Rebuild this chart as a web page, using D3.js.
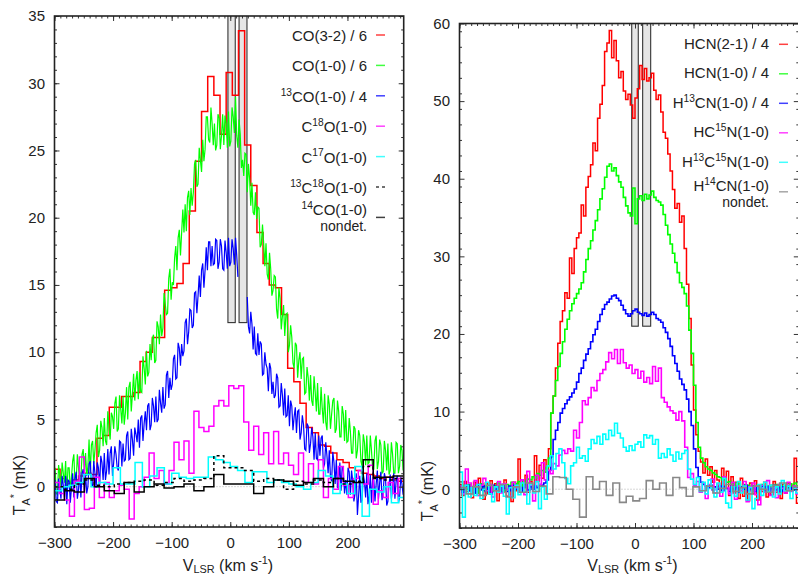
<!DOCTYPE html>
<html>
<head>
<meta charset="utf-8">
<script src="https://cdn.jsdelivr.net/npm/d3@7"></script>
<style>
  body { margin: 0; background: #fff; }
  svg { display: block; font-family: "Liberation Sans", Arial, sans-serif; }
</style>
</head>
<body>
<svg id="chart" width="798" height="576"></svg>
<script>
// ---- left panel: CO isotopologues (T_A* in mK, channels [start, width] in km/s)
const co32Grid = [-301, 10.5];
const co32 = [1.3,0.6,0.2,0.5,0.8,1.0,0.9,3.6,3.8,5.9,5.9,6.7,6.7,7.0,9.3,10.0,11.1,11.1,14.6,14.8,
  15.1,16.6,20.5,24.2,27.9,30.5,29.1,26.2,30.8,29.1,33.9,25.4,22.4,18.9,16.6,15.0,14.8,12.8,8.8,7.8,
  6.2,4.4,4.0,3.1,3.0,2.5,2.0,1.8,1.4,1.2,1.0,0.9,0.8,0.6,0.7,0.5,0.4];

const co10Grid = [-300, 2];
const co10 = [1.4,-0.5,-0.6,1.6,0.9,-0.1,1.8,1.0,0.3,1.9,
  -0.6,1.4,1.4,-0.3,0.7,1.9,2.4,0.2,0.4,2.4,
  1.4,0.2,0.5,2.4,2.8,0.9,2.5,0.8,1.5,3.5,
  0.9,3.1,3.4,1.7,2.7,4.0,4.6,2.2,2.7,4.9,
  4.4,3.0,5.1,3.4,3.1,5.6,4.4,3.5,5.5,5.2,
  4.3,6.2,6.7,4.1,4.3,6.8,5.8,4.7,6.7,4.6,
  5.5,7.4,5.0,7.4,7.8,5.6,6.9,8.4,6.4,7.9,
  8.6,6.5,8.5,7.1,7.0,9.7,8.8,7.6,10.1,8.2,
  8.5,10.6,9.4,11.0,11.3,9.2,9.4,12.3,11.9,10.6,
  12.8,11.2,11.8,14.4,13.6,12.8,12.9,15.5,16.2,13.9,
  15.2,15.0,17.0,17.9,16.1,18.5,19.1,17.2,18.9,20.6,
  18.9,21.0,19.0,21.5,22.0,20.2,22.2,20.9,21.9,24.0,
  24.3,22.3,22.5,25.2,24.3,23.4,25.8,24.2,25.1,27.5,
  27.5,25.8,25.6,28.2,27.0,25.4,27.0,25.0,25.4,27.7,
  27.4,25.1,26.1,27.7,25.4,27.6,27.0,25.2,27.9,25.3,
  25.7,28.2,27.5,26.3,29.0,26.1,25.2,27.3,26.2,23.7,
  24.3,23.1,24.8,24.7,21.9,24.0,22.9,20.9,22.6,20.4,
  20.2,21.9,19.9,20.8,20.7,17.8,18.0,19.5,18.1,16.4,
  18.1,15.8,15.4,17.4,16.2,14.2,14.6,15.7,15.6,13.2,
  12.5,14.8,14.0,11.7,12.7,13.5,11.2,12.8,12.9,10.0,
  10.5,12.0,11.1,9.2,8.8,10.7,10.5,8.1,9.4,10.0,
  8.0,9.5,9.6,6.9,7.0,8.9,8.1,6.4,8.3,6.4,
  6.0,8.2,7.0,5.6,7.7,5.4,5.4,7.4,5.8,4.7,
  6.9,4.8,4.2,6.8,6.1,4.3,5.4,6.4,6.6,4.0,
  4.3,6.4,5.6,3.7,3.7,6.0,5.4,3.4,5.7,3.3,
  3.4,5.1,4.1,2.5,2.5,4.5,4.3,2.1,2.7,4.2,
  3.8,1.9,1.5,3.9,3.3,1.6,3.8,1.7,1.8,3.8,
  2.7,1.3,1.3,3.4,3.8,1.3,1.9,3.5,3.1,1.0,
  1.1,3.4,2.7,1.2,3.2,0.9,1.2,3.3,2.4,1.0,
  1.0,3.3,3.2,1.0,1.5,3.1,2.7,1.2];

// null = channels hidden behind the second grey box
const co13Grid = [-300, 2];
const co13 = [0.5,-1.1,-1.2,0.6,-0.1,-0.9,0.8,0.1,-0.8,0.8,
  -1.3,0.5,0.4,-1.2,0.0,1.0,-0.8,0.6,1.1,-0.9,
  -0.2,1.1,-0.8,1.0,1.3,-0.4,0.9,-0.5,0.0,1.7,
  1.9,0.2,0.0,1.9,1.0,-0.1,1.8,1.4,0.0,2.3,
  1.8,0.5,2.5,0.5,1.2,2.8,0.9,2.5,3.0,0.8,
  1.8,3.0,2.4,1.4,1.2,3.4,3.3,1.5,3.2,1.9,
  2.0,3.8,4.1,2.0,2.1,4.3,3.5,2.3,4.4,3.9,
  3.3,5.0,2.9,5.1,5.3,3.4,4.7,5.6,4.2,6.0,
  6.2,4.2,4.6,6.6,6.0,4.8,6.7,4.8,5.0,7.2,
  6.2,5.5,7.4,5.8,6.1,8.3,8.6,6.6,8.1,7.2,
  7.6,9.5,9.8,8.0,8.1,10.7,10.3,9.0,10.6,9.7,
  10.1,12.2,12.5,10.6,11.5,13.2,13.1,11.8,12.0,14.4,
  14.5,12.9,14.2,15.7,14.1,16.1,16.6,14.8,16.1,17.8,
  16.1,18.2,18.2,16.4,17.9,16.5,16.6,18.4,18.3,16.2,
  16.7,18.4,17.9,16.2,16.1,18.3,17.4,16.2,18.5,16.4,
  16.7,18.4,17.7,16.5,18.5,17.2,15.6,null,null,null,
  null,null,null,null,14.1,11.9,11.4,13.0,12.1,10.2,
  11.9,9.9,9.8,11.4,9.8,10.8,10.6,8.3,8.4,10.0,
  9.1,8.8,7.1,9.2,8.8,6.9,7.8,6.6,6.8,8.4,
  8.1,5.9,6.0,7.7,6.8,5.3,7.3,5.2,5.3,6.8,
  4.5,6.4,6.0,4.2,5.2,5.9,4.0,5.6,5.7,3.5,
  4.0,5.3,4.6,2.8,2.7,4.7,4.5,2.5,3.2,4.4,
  3.7,2.0,4.0,2.1,2.0,3.8,2.3,3.6,3.8,1.4,
  1.7,3.3,2.3,1.0,2.7,0.7,0.4,2.6,1.8,0.2,
  2.0,-0.1,0.3,1.8,-0.3,1.5,1.2,-0.5,0.5,-0.6,
  1.4,1.1,-0.6,1.2,0.4,-1.1,-0.5,1.0,-2.1,-0.7,
  0.8,-1.2,-1.0,0.9,0.4,-0.8,1.0,-1.3,-0.7,0.9,
  -1.2,0.6,0.5,-1.1,0.2,1.2,-0.9,0.3,1.1,-1.0,
  -0.4,1.0,0.6,-1.4,-1.1,0.2,0.9,-0.9,-0.1,1.0,
  -0.9,0.4,0.8,-1.2,-0.8,0.7,0.2,-0.6];

const c18oGrid = [-300, 8.5];
const c18o = [0.3,-0.5,-1.0,-2.2,0.4,2.2,-1.7,-1.6,0.7,-0.8,
  0.3,-0.8,-0.3,0.1,-0.2,-2.4,-0.5,0.0,0.7,2.5,
  0.6,1.2,0.2,1.2,3.3,2.0,3.4,1.0,5.6,4.4,
  4.1,4.5,6.0,6.4,6.0,7.5,7.3,7.5,4.8,2.7,
  4.5,2.4,4.0,1.7,4.1,1.7,2.5,1.6,0.9,2.5,
  0.3,1.7,0.2,2.0,-0.8,0.6,-0.2,1.5,0.1,-0.8,
  0.6,1.2,0.2,1.6,-1.3,-0.3,-0.8,0.3,-0.5,0.6];

const c17oGrid = [-300, 12.5];
const c17o = [-0.3,0.0,0.1,0.3,0.9,0.0,0.3,0.2,1.4,0.2,
  0.2,1.8,0.0,0.8,1.4,0.2,1.0,0.7,0.6,0.7,
  0.7,2.2,2.0,1.8,1.5,1.2,0.3,1.1,1.1,0.3,
  0.5,0.3,0.2,0.0,-0.2,0.3,1.2,0.8,-0.5,0.2,
  -0.5,1.5,-2.2,-0.2,-0.4,0.0,-1.2,-0.8];

const c13c18oGrid = [-300, 17];
const c13c18o = [0.0,-0.2,0.2,0.5,0.1,0.0,0.2,0.3,0.4,0.5,0.1,0.3,0.6,0.4,0.5,0.6,2.3,1.4,
  1.4,1.2,0.4,0.6,0.5,-0.2,0.4,0.2,0.5,0.3,0.6,0.2,0.4,1.5,0.6,0.5,0.6];

const c14oGrid = [-300, 17];
const c14o = [-1.0,-0.3,-0.4,0.6,0.0,-0.3,-0.5,0.3,-0.4,0.0,0.2,-0.1,0.0,0.2,-0.3,0.0,0.9,0.2,
  0.2,0.2,-0.5,0.0,0.5,0.4,0.1,0.3,0.6,0.0,0.6,0.4,0.3,2.0,0.7,0.7,0.8];

const coLabels = ["CO(3-2) / 6", "CO(1-0) / 6", "^{13}CO(1-0) / 4", "C^{18}O(1-0)",
  "C^{17}O(1-0)", "^{13}C^{18}O(1-0)", "^{14}CO(1-0)"];
const coMasks = [[-4, 8.5], [15, 28.5]];   // velocity ranges of the grey boxes
const coMaskFloor = 12.2;

// ---- right panel: HCN isotopologues
const hcn21Grid = [-300, 4];
const hcn21 = [0.6,-0.8,1.0,-0.3,0.4,-1.1,0.9,-0.5,1.4,0.0,
  -1.3,0.8,-0.6,1.1,-0.2,0.7,-1.5,0.5,-0.4,1.2,
  -0.9,0.3,-1.6,0.9,-0.2,3.9,0.2,0.6,1.8,-0.4,
  1.0,0.2,4.3,1.0,3.1,1.4,3.8,2.6,5.2,9.8,
  12.0,15.6,18.8,21.6,23.0,25.3,24.6,29.8,27.8,31.0,
  32.4,33.0,36.6,35.2,38.9,40.3,41.8,44.6,43.6,47.8,
  49.6,52.0,56.4,57.5,59.1,55.6,57.8,55.2,53.0,53.8,
  51.3,50.2,50.9,49.5,47.8,50.4,51.6,54.6,52.8,54.2,
  52.6,53.0,53.6,51.4,50.2,50.8,48.6,46.0,45.2,43.2,
  41.0,38.6,36.2,36.8,34.4,35.2,31.0,26.4,22.0,16.0,
  10.2,7.0,4.9,3.5,2.1,3.9,1.8,2.9,0.9,2.4,
  1.2,0.3,2.7,0.4,2.3,-0.8,1.6,-0.5,0.9,-1.2,
  1.4,-0.9,0.2,-1.5,0.8,-0.6,1.1,-1.4,0.5,-0.3,
  0.9,-1.0,0.4,-0.7,1.0,-0.4,0.3,-1.2,0.6,-0.5,
  0.8,-0.2,0.5,4.0,-1.8,0.4];

const hcn10Grid = [-300, 4];
const hcn10 = [0.2,-0.4,0.5,0.0,0.6,-0.2,0.4,-0.5,0.3,0.7,
  -0.1,0.5,0.1,0.6,-0.3,0.4,0.8,0.1,0.5,-0.2,
  0.6,0.3,0.9,0.2,0.7,1.0,0.4,1.1,0.7,1.3,
  1.2,1.6,1.4,2.0,1.8,2.4,2.2,2.8,4.0,9.8,
  12.0,14.0,15.8,17.5,19.0,20.6,21.9,23.0,23.9,24.6,
  25.2,25.8,26.6,28.0,29.6,31.0,32.0,33.4,34.6,36.0,
  37.4,38.7,40.2,41.6,41.9,41.0,41.4,40.4,39.6,38.9,
  37.6,36.5,35.6,35.2,38.8,34.2,37.4,37.8,37.2,38.0,
  37.4,37.9,38.4,37.6,37.2,37.0,36.6,35.4,34.0,32.8,
  31.6,30.4,29.2,27.9,26.6,26.0,25.2,23.6,20.5,17.5,
  13.4,8.6,5.4,4.0,3.4,2.9,2.6,2.4,2.1,1.9,
  1.6,1.5,1.2,1.3,0.9,1.0,0.6,0.8,0.4,0.7,
  0.3,0.6,0.2,0.5,0.1,0.4,0.0,0.5,0.2,0.6,
  0.1,0.4,-0.1,0.5,0.2,0.6,0.0,0.4,0.1,0.5,
  0.2,0.7,0.3,0.8,0.4,0.6];

const h13cnGrid = [-300, 4];
const h13cn = [0.3,-0.4,0.1,0.5,-0.2,0.3,-0.5,0.2,0.6,-0.1,
  0.4,-0.3,0.2,-0.6,0.5,0.0,0.3,-0.4,0.6,0.1,
  -0.3,0.4,-0.2,0.5,0.0,0.3,-0.4,0.2,0.6,-0.1,
  0.3,0.0,0.4,0.2,0.6,0.5,0.8,1.2,2.4,4.2,
  6.4,7.6,8.6,9.8,10.4,11.0,11.5,11.9,12.4,12.9,
  13.8,14.9,15.6,16.6,17.4,18.1,19.0,19.9,20.6,21.6,
  22.5,23.2,23.8,24.1,24.5,24.9,25.0,24.6,24.3,23.7,
  23.1,22.6,22.3,22.6,23.0,23.2,22.8,22.6,22.4,22.7,
  22.3,22.5,22.8,22.5,22.0,21.8,21.5,20.8,20.2,19.4,
  18.4,17.2,16.2,15.2,14.2,13.5,12.8,11.6,10.0,8.2,
  5.2,2.8,1.6,0.9,0.6,0.4,0.2,0.5,-0.1,0.3,
  0.0,0.4,-0.2,0.3,0.1,-0.3,0.4,0.0,0.2,-0.4,
  0.3,0.0,0.5,-0.2,0.1,0.4,-0.3,0.2,0.0,0.4,
  -0.2,0.3,-0.4,0.1,0.5,-0.1,0.2,-0.3,0.3,0.0,
  0.4,-0.2,0.2,-0.1,0.3,0.0];

const hc15nGrid = [-300, 5];
const hc15n = [0.4,-0.6,2.6,0.8,-0.3,1.1,-0.8,0.5,1.4,-0.2,
  0.6,-1.0,0.3,1.0,-0.5,0.7,0.0,-0.9,0.9,0.2,
  -0.4,1.2,-0.7,2.3,0.5,-1.5,1.8,0.6,3.4,1.2,
  2.4,2.0,3.3,3.0,4.4,5.0,4.6,5.2,4.9,7.6,
  6.6,8.6,11.4,10.9,11.8,13.1,12.7,14.0,14.9,15.4,
  16.4,17.6,16.8,18.0,16.2,18.0,16.3,15.6,16.0,14.9,
  15.4,14.3,15.2,13.8,14.4,13.6,15.8,13.9,15.6,11.8,
  11.2,10.6,10.1,9.8,8.9,10.0,8.8,5.4,1.5,2.0,
  0.5,1.0,-0.4,0.8,-1.2,0.6,1.3,-0.5,0.7,-0.9,
  1.6,0.2,-0.6,0.9,-1.3,0.4,-0.2,1.0,-1.6,0.3,
  0.8,-0.7,-2.0,0.5,-0.4,1.1,-0.8,0.2,-1.1,0.6,
  0.1,-0.5,0.9,-0.3,0.4,-0.6,0.2];

const h13c15nGrid = [-300, 5];
const h13c15n = [2.2,-3.6,0.5,-1.0,0.2,-0.8,0.6,-1.2,0.0,0.9,
  -0.6,-1.6,0.3,-0.4,0.4,-0.9,-3.2,0.2,-1.1,0.5,
  -0.7,0.8,-0.3,-1.9,0.6,-0.5,1.0,-2.5,0.3,-1.3,
  3.0,4.3,2.6,4.6,5.2,3.4,1.4,0.7,3.0,3.4,
  5.4,4.0,4.3,3.6,5.2,6.4,5.9,6.8,5.8,7.1,
  6.4,7.6,6.9,8.5,7.2,6.6,5.4,4.9,5.6,5.0,
  5.8,6.1,5.4,7.0,6.6,6.9,5.8,6.4,4.0,4.6,
  4.1,5.2,4.4,3.6,4.8,3.9,4.6,5.0,2.6,1.3,
  0.6,1.5,-0.3,0.9,-0.6,1.2,0.1,-1.0,0.8,-0.4,
  1.4,-1.8,-2.4,0.3,-0.9,1.0,-0.5,0.4,-1.4,0.2,
  -2.5,-1.2,0.6,-0.8,0.9,-0.3,0.5,-1.0,0.3,-0.6,
  1.1,-0.2,0.4,-1.2,0.1,-0.5,0.6];

const h14cnGrid = [-300, 11.4];
const h14cn = [0.2,-0.6,0.3,-0.8,0.5,-0.2,0.6,-1.0,0.3,-0.4,
  0.8,-0.3,0.4,-0.6,1.6,1.5,0.0,-1.3,-3.6,1.6,
  0.0,1.0,-0.8,0.8,-1.7,-0.9,-1.5,-1.2,1.1,0.0,
  0.8,-0.8,1.5,0.2,-0.9,0.3,-0.2,0.4,-0.5,0.1,
  0.6,-0.3,0.2,-0.6,0.4,0.0,-0.4,0.5,0.8,-0.2,0.3];

const hcnLabels = ["HCN(2-1) / 4", "HCN(1-0) / 4", "H^{13}CN(1-0) / 4", "HC^{15}N(1-0)",
  "H^{13}C^{15}N(1-0)", "H^{14}CN(1-0)"];
const hcnMasks = [[-5.6, 5.6], [13.1, 26.8]];
const hcnMaskFloor = 21;

const xMajor = [-300, -200, -100, 0, 100, 200];

// ---- drawing
const svg = d3.select("#chart");

// text with ^{sup} and _{sub} pieces
function rich(text, str, size, subDrop) {
  const parts = str.split(/([\^_]\{[^}]*\})/).filter(s => s.length);
  let shift = 0;
  parts.forEach(p => {
    let dy = 0, fs = size, t = p;
    if (p[0] === "^") { t = p.slice(2, -1); fs = size * 0.68; dy = -size * 0.42; }
    else if (p[0] === "_") { t = p.slice(2, -1); fs = size * 0.68; dy = size * (subDrop || 0.3); }
    text.append("tspan").attr("dy", dy - shift).attr("font-size", fs).text(t);
    shift = dy;
  });
}

function toPoints(values, grid, centred) {
  const [start, w] = grid;
  const off = centred ? w / 2 : 0;
  const pts = values.map((t, i) => ({v: start + i * w + off, t}));
  if (!centred) pts.push({v: start + values.length * w, t: values[values.length - 1]});
  return pts;
}

function drawPanel(p, id) {
  const x = d3.scaleLinear().domain(p.xDom).range([p.x0, p.x1]);
  const y = d3.scaleLinear().domain(p.yDom).range([p.y1, p.y0]);
  const g = svg.append("g");

  g.append("clipPath").attr("id", id)
    .append("rect").attr("x", p.x0).attr("y", p.y0)
    .attr("width", p.x1 - p.x0).attr("height", p.y1 - p.y0);
  const plot = g.append("g").attr("clip-path", `url(#${id})`);

  // grey masked velocity boxes
  plot.selectAll("rect.mask").data(p.masks).join("rect")
    .attr("class", "mask")
    .attr("x", d => x(d[0])).attr("width", d => x(d[1]) - x(d[0]))
    .attr("y", y(p.yDom[1]) - 2).attr("height", y(p.maskFloor) - y(p.yDom[1]) + 2)
    .attr("fill", "#e6e6e6").attr("stroke", "#333").attr("stroke-width", 1.1);

  plot.append("line")
    .attr("x1", p.x0).attr("x2", p.x1).attr("y1", y(0)).attr("y2", y(0))
    .attr("stroke", "#999").attr("stroke-width", 0.8).attr("stroke-dasharray", "1,2");

  const stepLine = d3.line()
    .defined(d => d.t !== null)
    .x(d => x(d.v)).y(d => y(d.t))
    .curve(d3.curveStepAfter);
  const noisyLine = d3.line()
    .defined(d => d.t !== null)
    .x(d => x(d.v)).y(d => y(d.t));

  plot.selectAll("path.spec").data(p.series).join("path")
    .attr("class", "spec")
    .attr("d", s => s.noisy ? noisyLine(toPoints(s.values, s.grid, true))
                            : stepLine(toPoints(s.values, s.grid, false)))
    .attr("fill", "none")
    .attr("stroke", s => s.color)
    .attr("stroke-width", s => s.width || 1.5)
    .attr("stroke-dasharray", s => s.dash || null);

  // axes, ticks pointing inward
  const style = sel => {
    sel.select(".domain").remove();
    sel.selectAll(".tick line").attr("stroke", "#333").attr("stroke-width", 1);
    sel.selectAll(".tick text").attr("font-size", 15).attr("fill", "#222")
      .attr("font-family", "Liberation Sans, Arial, sans-serif");
  };
  const xMinor = d3.range(-300, p.xDom[1], 10);
  const yMinor = d3.range(p.yDom[0], p.yDom[1] + 0.01, p.yMinor);
  const yMajor = d3.range(0, p.yDom[1] + 0.01, p.yMajor);
  const none = () => "";

  g.append("g").attr("transform", `translate(0,${p.y1})`)
    .call(d3.axisBottom(x).tickValues(xMinor).tickSize(-2.5).tickFormat(none)).call(style);
  g.append("g").attr("transform", `translate(0,${p.y1})`)
    .call(d3.axisBottom(x).tickValues(xMajor).tickSize(-5).tickPadding(10.5)).call(style);
  g.append("g").attr("transform", `translate(0,${p.y0})`)
    .call(d3.axisTop(x).tickValues(xMinor).tickSize(-2.5).tickFormat(none)).call(style);
  g.append("g").attr("transform", `translate(0,${p.y0})`)
    .call(d3.axisTop(x).tickValues(xMajor).tickSize(-5).tickFormat(none)).call(style);

  g.append("g").attr("transform", `translate(${p.x0},0)`)
    .call(d3.axisLeft(y).tickValues(yMinor).tickSize(-2.5).tickFormat(none)).call(style);
  g.append("g").attr("transform", `translate(${p.x0},0)`)
    .call(d3.axisLeft(y).tickValues(yMajor).tickSize(-5).tickPadding(9.5)).call(style);
  g.append("g").attr("transform", `translate(${p.x1},0)`)
    .call(d3.axisRight(y).tickValues(yMinor).tickSize(-2.5).tickFormat(none)).call(style);
  g.append("g").attr("transform", `translate(${p.x1},0)`)
    .call(d3.axisRight(y).tickValues(yMajor).tickSize(-5).tickFormat(none)).call(style);

  g.append("rect")
    .attr("x", p.x0).attr("y", p.y0)
    .attr("width", p.x1 - p.x0).attr("height", p.y1 - p.y0)
    .attr("fill", "none").attr("stroke", "#222").attr("stroke-width", 1.6);

  // axis titles
  const yt = g.append("text")
    .attr("transform", `translate(${p.yTitle[0]},${p.yTitle[1]}) rotate(-90)`)
    .attr("text-anchor", "middle").attr("fill", "#222").attr("font-size", 16);
  rich(yt, "T_{A}^{*} (mK)", 16);
  const xt = g.append("text")
    .attr("x", p.xTitle[0]).attr("y", p.xTitle[1])
    .attr("text-anchor", "middle").attr("fill", "#222").attr("font-size", 16);
  rich(xt, "V_{LSR} (km s^{-1})", 16, 0.18);

  // legend
  const lg = g.append("g");
  p.series.forEach((s, i) => {
    const ly = p.leg.y + i * p.leg.step;
    const last = i === p.series.length - 1;
    lg.append("line")
      .attr("x1", p.leg.lx[0]).attr("x2", p.leg.lx[1]).attr("y1", ly).attr("y2", ly)
      .attr("stroke", s.color).attr("stroke-width", 1.5).attr("stroke-opacity", 0.75)
      .attr("stroke-dasharray", s.dash ? "3,3" : null);
    const t = lg.append("text")
      .attr("x", p.leg.tx).attr("y", ly + (last ? p.leg.lastOff : p.leg.off))
      .attr("text-anchor", "end").attr("fill", "#222").attr("font-size", 15);
    rich(t, s.label, 15);
    // the non-detection gets a second, slightly smaller line
    if (last) {
      lg.append("text")
        .attr("x", p.leg.tx).attr("y", ly + p.leg.lastOff + 16)
        .attr("text-anchor", "end").attr("fill", "#222").attr("font-size", 14)
        .text("nondet.");
    }
  });
}

drawPanel({
  x0: 54.5, x1: 403.7, y0: 16, y1: 527,
  xDom: [-300, 296], yDom: [-3, 35], yMajor: 5, yMinor: 1,
  masks: coMasks, maskFloor: coMaskFloor,
  yTitle: [25, 485], xTitle: [228, 570.5],
  leg: {tx: 367, lx: [376, 385], y: 35, step: 30.4, off: 6, lastOff: -2},
  series: [
    {values: co32, grid: co32Grid, color: "#ff0000", label: coLabels[0]},
    {values: co10, grid: co10Grid, color: "#00ff00", label: coLabels[1], width: 1.2, noisy: true},
    {values: co13, grid: co13Grid, color: "#0000ff", label: coLabels[2], width: 1.2, noisy: true},
    {values: c18o, grid: c18oGrid, color: "#ff00ff", label: coLabels[3]},
    {values: c17o, grid: c17oGrid, color: "#00ffff", label: coLabels[4]},
    {values: c13c18o, grid: c13c18oGrid, color: "#000000", label: coLabels[5], dash: "3,3"},
    {values: c14o, grid: c14oGrid, color: "#000000", label: coLabels[6]}
  ]
}, "clipL");

drawPanel({
  x0: 459.5, x1: 798.8, y0: 23.5, y1: 528,
  xDom: [-300, 280], yDom: [-5, 60], yMajor: 10, yMinor: 2,
  masks: hcnMasks, maskFloor: hcnMaskFloor,
  yTitle: [433, 491], xTitle: [632.5, 570.5],
  leg: {tx: 769, lx: [779, 788], y: 44.3, step: 29.5, off: 4.5, lastOff: -0.5},
  series: [
    {values: hcn21, grid: hcn21Grid, color: "#ff0000", label: hcnLabels[0], width: 1.5},
    {values: hcn10, grid: hcn10Grid, color: "#00ff00", label: hcnLabels[1], width: 1.6},
    {values: h13cn, grid: h13cnGrid, color: "#0000ff", label: hcnLabels[2], width: 1.6},
    {values: hc15n, grid: hc15nGrid, color: "#ff00ff", label: hcnLabels[3], width: 1.6},
    {values: h13c15n, grid: h13c15nGrid, color: "#00ffff", label: hcnLabels[4], width: 1.6},
    {values: h14cn, grid: h14cnGrid, color: "#888888", label: hcnLabels[5], width: 1.6}
  ]
}, "clipR");
</script>
</body>
</html>
